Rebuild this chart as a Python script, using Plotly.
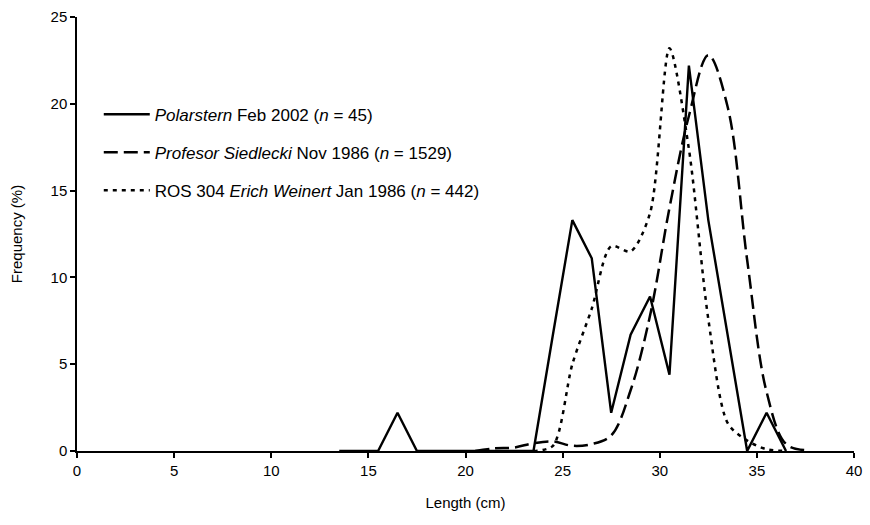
import plotly.graph_objects as go

# Polarstern Feb 2002 (n = 45)
polar_x = [13.5, 14.5, 15.5, 16.5, 17.5, 18.5, 19.5, 20.5, 21.5, 22.5, 23.5, 24.5,
           25.5, 26.5, 27.5, 28.5, 29.5, 30.5, 31.5, 32.5, 33.5, 34.5, 35.5, 36.5]
polar_y = [0, 0, 0, 2.2, 0, 0, 0, 0, 0, 0, 0, 6.7,
           13.3, 11.1, 2.2, 6.7, 8.9, 4.4, 22.2, 13.3, 6.7, 0, 2.2, 0]

# Profesor Siedlecki Nov 1986 (n = 1529)
prof_x = [20.5, 21.5, 22.5, 23.5, 24.5, 25.5, 26.5, 27.5, 28.5, 29.5, 30.5, 31.5,
          32.5, 33.5, 34.5, 35.5, 36.5, 37.5]
prof_y = [0, 0.15, 0.2, 0.45, 0.55, 0.3, 0.4, 0.9, 3.5, 7.8, 14.0, 19.3,
          22.8, 19.8, 11.0, 3.4, 0.4, 0.05]

# ROS 304 Erich Weinert Jan 1986 (n = 442)
ros_x = [23.5, 24.5, 25.5, 26.5, 27.5, 28.5, 29.5, 30.5, 31.5, 32.5, 33.5, 34.5, 35.5, 36.5]
ros_y = [0, 0.3, 5.0, 8.2, 11.8, 11.5, 13.7, 23.2, 17.4, 7.6, 1.6, 0.6, 0.1, 0]

names = ["<i>Polarstern</i> Feb 2002 (<i>n</i> = 45)",
         "<i>Profesor Siedlecki</i> Nov 1986 (<i>n</i> = 1529)",
         "ROS 304 <i>Erich Weinert</i> Jan 1986 (<i>n</i> = 442)"]

x_ticks = [0, 5, 10, 15, 20, 25, 30, 35, 40]
y_ticks = [0, 5, 10, 15, 20, 25]

FONT = "Arial, Liberation Sans, sans-serif"

fig = go.Figure()
fig.add_trace(go.Scatter(x=polar_x, y=polar_y, mode="lines", name=names[0], showlegend=True,
                         line=dict(color="black", width=2.4), legend="legend"))
fig.add_trace(go.Scatter(x=prof_x, y=prof_y, mode="lines", name=names[1], showlegend=True,
                         line=dict(color="black", width=2.5, dash="14px,6px",
                                   shape="spline", smoothing=1.0), legend="legend2"))
fig.add_trace(go.Scatter(x=ros_x, y=ros_y, mode="lines", name=names[2], showlegend=True,
                         line=dict(color="black", width=2.5, dash="4px,5px",
                                   shape="spline", smoothing=0.8), legend="legend3"))

W, H = 870, 525
L, R, T, B = 77, 8, 16, 74
pw, ph = W - L - R, H - T - B


def leg(py):
    return dict(x=(99 - L) / pw, xanchor="left", y=(H - B - py) / ph, yanchor="middle",
                bgcolor="rgba(0,0,0,0)", borderwidth=0, itemwidth=46, visible=True,
                font=dict(family=FONT, size=17, color="black"))


fig.update_layout(
    width=W, height=H,
    margin=dict(l=L, r=R, t=T, b=B),
    paper_bgcolor="white", plot_bgcolor="white",
    showlegend=True,
    font=dict(family=FONT, size=15, color="black"),
    legend=leg(114), legend2=leg(152), legend3=leg(190),
    xaxis=dict(range=[0, 40], tickvals=x_ticks, ticktext=[str(v) for v in x_ticks],
               showgrid=False, zeroline=False, showline=True, linecolor="black", linewidth=1.5,
               ticks="outside", ticklen=5, tickwidth=1.5, tickcolor="black",
               ticklabeloverflow="allow",
               tickfont=dict(family=FONT, size=15, color="black"),
               title=dict(text="Length (cm)", font=dict(family=FONT, size=15, color="black"),
                          standoff=20)),
    yaxis=dict(range=[0, 25], tickvals=y_ticks, ticktext=[str(v) for v in y_ticks],
               showgrid=False, zeroline=False, showline=True, linecolor="black", linewidth=1.5,
               ticks="outside", ticklen=5, tickwidth=1.5, tickcolor="black",
               tickfont=dict(family=FONT, size=15, color="black"),
               title=dict(text="Frequency (%)", font=dict(family=FONT, size=15, color="black"),
                          standoff=24)),
)

fig.write_html("out.html")
